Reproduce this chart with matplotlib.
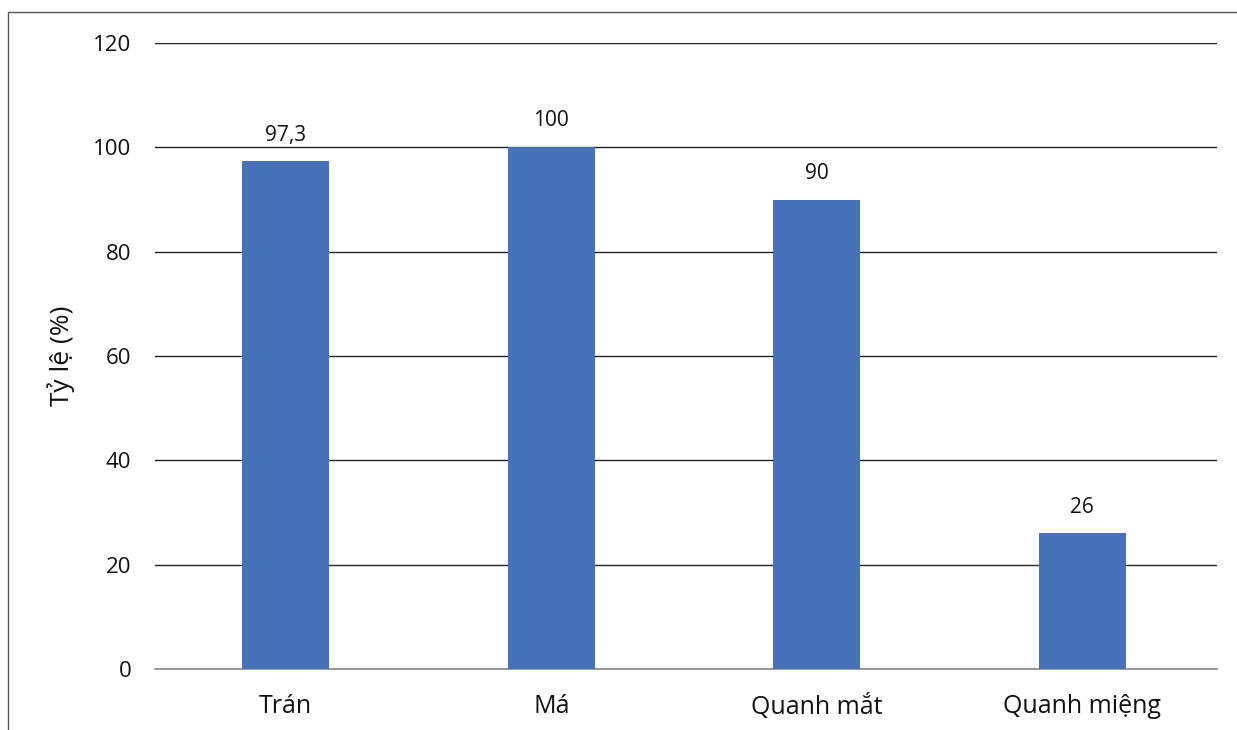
import matplotlib
matplotlib.use("Agg")
import matplotlib.pyplot as plt
from matplotlib.patches import Rectangle

categories = ["Trán", "Má", "Quanh mắt", "Quanh miệng"]
values = [97.3, 100, 90, 26]
labels = ["97,3", "100", "90", "26"]
yticks = [0, 20, 40, 60, 80, 100, 120]

plt.rcParams['font.family'] = ['Open Sans', 'DejaVu Sans']

fig = plt.figure(figsize=(12.37, 7.30), dpi=100)
W, H = 1237, 730
ax = fig.add_axes([155 / W, 1 - 669 / H, (1217 - 155) / W, (669 - 43) / H])

x = list(range(len(categories)))
ax.bar(x, values, width=0.326, color="#4872b8", zorder=3)
for xi, v, lab in zip(x, values, labels):
    ax.annotate(lab, (xi, v), xytext=(0, 15), textcoords="offset points",
                ha="center", va="baseline", fontsize=15, color="#111111")

ax.set_xlim(-0.4925, 3.5075)
ax.set_ylim(0, 120)
ax.set_yticks(yticks)
ax.set_yticklabels([str(t) for t in yticks])
ax.set_xticks(x)
ax.set_xticklabels(categories, fontsize=18)
ax.tick_params(axis="both", length=0, colors="#111111")
ax.tick_params(axis="y", pad=17, labelsize=16)
ax.tick_params(axis="x", pad=18)
ax.yaxis.grid(True, color="#222222", linewidth=1.0, zorder=0)
for s in ["top", "right", "left"]:
    ax.spines[s].set_visible(False)
ax.spines["bottom"].set_color("#888888")
ax.spines["bottom"].set_linewidth(1.2)
ax.set_ylabel("Tỷ lệ (%)", fontsize=19, color="#111111", labelpad=13)

fig.patches.append(Rectangle((8 / W, -0.1), 1.2, 1 - 12 / H + 0.1,
                             transform=fig.transFigure, fill=False,
                             edgecolor="#555555", linewidth=1.0))

fig.savefig("out.png", dpi=100)
